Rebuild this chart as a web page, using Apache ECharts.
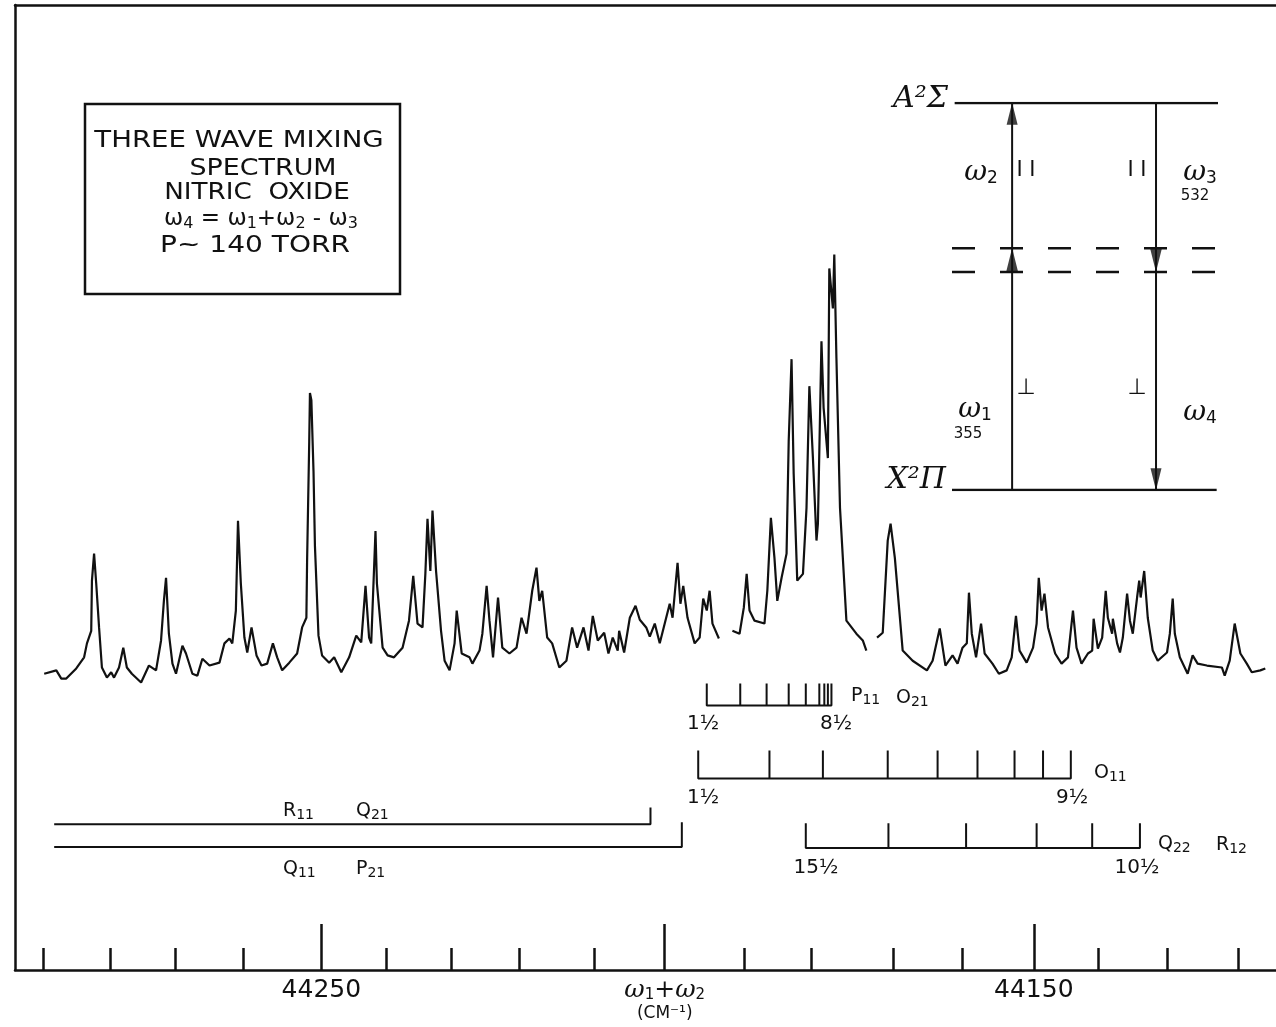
<!DOCTYPE html>
<html lang="en">
<head>
    <meta charset="UTF-8">
    <title>Three wave mixing spectrum - nitric oxide</title>
    <script src="https://cdn.jsdelivr.net/npm/echarts@6/dist/echarts.min.js"></script>
    <style>
        html, body { margin: 0; padding: 0; background: #fff; }
        #main { width: 1276px; height: 1027px; }
    </style>
</head>
<body>

<div id="main"></div>

<script type="text/javascript">
    // trace: wavenumber (cm-1) and signal (arb. units), null = pen gap
    var wavenumber = [
        44288.9, 44287.2, 44286.5, 44285.8, 44284.4, 44283.3, 44282.9, 44282.3, 44282.2, 44281.9,
        44281.6, 44281.2, 44280.8, 44280.1, 44279.5, 44279.1, 44278.4, 44277.8, 44277.3, 44276.6,
        44275.3, 44274.2, 44273.2, 44272.5, 44272.1, 44271.8, 44271.4, 44270.9, 44270.4, 44269.5,
        44269.0, 44268.1, 44267.4, 44266.7, 44265.7, 44264.3, 44263.6, 44262.9, 44262.5, 44262.0,
        44261.7, 44261.3, 44260.8, 44260.4, 44259.8, 44259.1, 44258.4, 44257.6, 44256.8, 44256.2,
        44255.5, 44254.5, 44253.4, 44252.7, 44252.1, 44252.0, 44251.7, 44251.6, 44251.4, 44251.1,
        44250.9, 44250.4, 44249.9, 44248.9, 44248.2, 44247.2, 44246.1, 44245.1, 44244.4, 44243.8,
        44243.3, 44243.0, 44242.4, 44242.2, 44241.4, 44240.7, 44239.8, 44238.6, 44237.7, 44237.1,
        44236.5, 44235.8, 44235.4, 44235.1, 44234.7, 44234.4, 44233.9, 44233.2, 44232.7, 44232.0,
        44231.3, 44231.0, 44230.3, 44229.2, 44228.8, 44227.8, 44227.4, 44226.8, 44226.4, 44225.9,
        44225.2, 44224.6, 44223.6, 44222.6, 44221.9, 44221.2, 44220.4, 44219.8, 44219.4, 44219.0,
        44218.3, 44217.6, 44216.6, 44215.6, 44214.8, 44214.1, 44213.2, 44212.5, 44211.9, 44211.2,
        44210.3, 44209.7, 44209.1, 44208.4, 44208.2, 44207.5, 44206.7, 44205.9, 44205.3, 44204.4,
        44203.9, 44203.2, 44202.5, 44201.1, 44200.7, 44200.0, 44199.6, 44199.2, 44198.6, 44197.6,
        44196.9, 44196.4, 44195.9, 44195.5, 44195.1, 44194.2, 44193.2, 44192.3, 44191.3, 44190.7,
        44190.3, 44189.9, 44189.2, 44187.8, 44187.4, 44186.9, 44186.4, 44186.0, 44185.4, 44184.7,
        44184.4, 44184.0, 44183.7, 44183.2, 44182.4, 44181.9, 44181.5, 44181.0, 44180.5, 44180.3,
        44179.8, 44179.5, 44178.9, 44178.7, 44178.2, 44178.0, 44177.7, 44177.2, 44176.3, 44174.9,
        44174.0, 44173.5, 44172.8, 44172.0, 44171.2, 44170.5, 44170.1, 44169.5, 44168.4, 44167.0,
        44165.0, 44164.2, 44163.2, 44162.4, 44161.4, 44160.7, 44160.0, 44159.4, 44159.1, 44158.7,
        44158.1, 44157.4, 44156.9, 44155.8, 44154.9, 44153.8, 44153.1, 44152.5, 44152.0, 44151.0,
        44150.1, 44149.6, 44149.3, 44148.9, 44148.5, 44148.0, 44147.0, 44146.1, 44145.2, 44144.5,
        44144.0, 44143.3, 44142.4, 44141.8, 44141.6, 44141.0, 44140.4, 44139.9, 44139.6, 44139.0,
        44138.9, 44138.3, 44137.9, 44137.5, 44136.9, 44136.5, 44136.1, 44135.5, 44135.2, 44135.0,
        44134.5, 44134.0, 44133.3, 44132.6, 44131.3, 44130.9, 44130.5, 44130.2, 44129.5, 44128.4,
        44127.7, 44127.0, 44125.7, 44123.6, 44123.2, 44122.5, 44121.8, 44121.0, 44120.1, 44119.4,
        44118.2, 44117.5
    ];
    var signal = [
        1.4, 2.1, 0.4, 0.4, 2.5, 4.8, 7.7, 10.3, 20.7, 26.3,
        20.1, 11.0, 2.7, 0.6, 1.7, 0.6, 2.7, 6.8, 2.7, 1.4,
        -0.4, 3.1, 2.1, 8.3, 16.5, 21.3, 9.7, 3.5, 1.4, 7.2,
        5.6, 1.4, 1.0, 4.5, 3.1, 3.7, 7.7, 8.7, 7.7, 14.5,
        33.1, 20.1, 8.9, 5.8, 11.0, 5.2, 3.1, 3.5, 7.7, 4.8,
        2.1, 3.7, 5.6, 11.0, 13.0, 24.8, 49.6, 59.6, 58.1, 43.4,
        27.9, 9.3, 5.2, 3.7, 4.8, 1.7, 4.8, 9.3, 7.9, 19.6,
        8.9, 7.7, 31.0, 20.1, 6.8, 5.2, 4.8, 6.8, 12.4, 21.7,
        11.8, 11.0, 22.1, 33.5, 22.7, 35.2, 22.7, 10.3, 4.1, 2.1,
        7.7, 14.5, 5.6, 4.8, 3.5, 6.2, 9.7, 19.6, 12.4, 4.8,
        17.2, 6.8, 5.6, 6.8, 13.0, 9.7, 18.6, 23.4, 16.5, 18.6,
        8.9, 7.7, 2.7, 4.1, 11.0, 6.8, 11.0, 6.2, 13.4, 8.3,
        9.9, 5.6, 8.9, 6.2, 10.3, 5.8, 13.0, 15.5, 12.6, 11.0,
        9.1, 11.8, 7.7, 15.9, 13.0, 24.4, 15.9, 19.6, 13.0, 7.7,
        8.9, 17.0, 14.5, 18.6, 11.8, 8.7, null, 10.3, 9.7, 15.1,
        22.1, 14.5, 12.4, 11.8, 18.6, 33.7, 25.4, 16.5, 21.3, 26.3,
        49.6, 66.6, 42.8, 20.7, 22.1, 35.8, 61.0, 46.1, 29.0, 32.5,
        70.3, 56.5, 46.1, 85.4, 77.1, 88.3, 66.8, 35.8, 12.4, 9.7,
        8.3, 6.2, null, 8.9, 9.9, 29.0, 32.5, 25.4, 6.2, 4.1,
        2.1, 4.1, 10.8, 3.1, 5.2, 3.5, 6.8, 7.7, 18.2, 9.7,
        4.8, 11.8, 5.6, 3.5, 1.4, 2.1, 4.8, 13.4, 6.2, 3.7,
        6.8, 11.8, 21.3, 14.5, 18.0, 11.0, 5.6, 3.5, 4.8, 14.5,
        6.8, 3.5, 5.6, 6.2, 12.8, 6.6, 8.9, 18.6, 13.0, 9.7,
        12.8, 7.7, 5.8, 8.9, 18.0, 12.4, 9.7, 17.2, 20.7, 17.2,
        22.7, 13.0, 6.2, 4.1, 5.8, 9.7, 17.0, 9.7, 4.8, 1.4,
        5.2, 3.5, 3.1, 2.7, 1.0, 4.1, 11.8, 5.6, 3.5, 1.7,
        2.1, 2.5
    ];

    // axis ticks as drawn (hand inked, ~10 cm-1 apart)
    var minorTicks = [44289.1, 44279.7, 44270.5, 44261.0, 44250, 44240.9, 44231.8, 44222.2, 44211.7,
        44201.8, 44190.6, 44181.2, 44169.7, 44160.1, 44150, 44140.9, 44131.2, 44121.3];
    var majorTicks = [44250, 44201.8, 44150];
    var tickLabels = ['44250', '{w|ω}{ws|1}{w|+ω}{ws|2}\n{c|(CM⁻¹)}', '44150'];

    // rotational assignments (cm-1)
    var p11Lines = [44195.9, 44191.2, 44187.5, 44184.4, 44182.0, 44180.1, 44179.4, 44178.9, 44178.4];
    var o11Lines = [44197.1, 44187.1, 44179.6, 44170.5, 44163.5, 44157.9, 44152.7, 44148.7, 44144.8];
    var q22Lines = [44182.0, 44170.4, 44159.5, 44149.6, 44141.8, 44135.1];
    var r11Band = [44287.5, 44203.8];
    var q11Band = [44287.5, 44199.4];

    // rows below the trace, in signal units: [baseline, tick top]
    var rowP11 = [-5.2, -0.6], rowO11 = [-20.3, -14.5], rowQ22 = [-34.7, -29.6];
    var rowR11 = [-29.8, -26.3], rowQ11 = [-34.5, -29.4];

    // energy level inset (0 = X2Pi, 1 = A2Sigma)
    var virtualLevels = [0.625, 0.563];
    var beamX = [0.226, 0.767];

    var ink = '#111';
    var myChart = echarts.init(document.getElementById('main'));

    var trace = wavenumber.map(function (w, i) {
        return [w, signal[i] === null ? '-' : signal[i]];
    });

    function comb(lines, row) {
        var pts = [];
        lines.forEach(function (w) {
            pts.push([w, row[0]], [w, row[1]], [w, row[0]]);
        });
        return pts;
    }

    function band(b, row) {
        return [[b[0], row[0]], [b[1], row[0]], [b[1], row[1]]];
    }

    function path(data, opts) {
        var s = {
            type: 'line', data: data, symbol: 'none', silent: true,
            lineStyle: {color: ink, width: 2}
        };
        for (var k in opts) s[k] = opts[k];
        return s;
    }

    // main glyph + subscript rich styles
    function richSet(mainFont, mainH, subFont, subH) {
        return {
            m: {font: mainFont, lineHeight: mainH, fill: ink},
            s: {font: subFont, lineHeight: subH, verticalAlign: 'bottom', fill: ink}
        };
    }

    var sans = '"DejaVu Sans"';
    var richLbl = richSet('19px ' + sans, 22, '14px ' + sans, 14);
    var richOmega = richSet('italic 28px "DejaVu Serif"', 28, '17px ' + sans, 15);
    var richTitle = richSet('23px ' + sans, 25, '16px ' + sans, 15);

    function txt(text, x, y, font, align, sx, rich) {
        var style = {
            text: text, font: font, fill: ink,
            textAlign: align || 'center', align: align || 'center',
            textVerticalAlign: 'middle', verticalAlign: 'middle'
        };
        if (rich) style.rich = rich;
        return {type: 'text', x: x, y: y, scaleX: sx || 1, silent: true, style: style};
    }

    function sub(a, b) {
        return '{m|' + a + '}{s|' + b + '}';
    }

    var option = {
        animation: false,
        backgroundColor: '#fff',
        textStyle: {fontFamily: 'DejaVu Sans', color: ink},
        grid: [
            {left: 15, right: 0, top: 5, bottom: 57},
            {left: 952, top: 103, width: 266, height: 387}
        ],
        xAxis: [{
            type: 'value', gridIndex: 0, inverse: true, min: 44116, max: 44293,
            position: 'bottom',
            axisLine: {onZero: false, lineStyle: {color: ink, width: 2.5}},
            axisTick: {show: true, inside: true, length: 22, customValues: minorTicks,
                lineStyle: {color: ink, width: 2.5}},
            axisLabel: {
                customValues: majorTicks, margin: 8, color: ink, fontSize: 25,
                formatter: function (v) {
                    return tickLabels[majorTicks.indexOf(v)];
                },
                rich: {
                    w: {fontSize: 25, fontFamily: 'DejaVu Serif', fontStyle: 'italic', color: ink, lineHeight: 25},
                    ws: {fontSize: 15, color: ink, lineHeight: 14, verticalAlign: 'bottom'},
                    c: {fontSize: 17, color: ink, lineHeight: 22}
                }
            },
            splitLine: {show: false}
        }, {
            type: 'value', gridIndex: 0, inverse: true, min: 44116, max: 44293,
            position: 'bottom',
            axisLine: {show: false, onZero: false},
            axisTick: {show: true, inside: true, length: 46, customValues: majorTicks,
                lineStyle: {color: ink, width: 2.5}},
            axisLabel: {show: false},
            splitLine: {show: false}
        }, {
            type: 'value', gridIndex: 0, inverse: true, min: 44116, max: 44293,
            position: 'top',
            axisLine: {show: true, onZero: false, lineStyle: {color: ink, width: 2.5}},
            axisTick: {show: false},
            axisLabel: {show: false},
            splitLine: {show: false}
        }, {
            type: 'value', gridIndex: 1, min: 0, max: 1, show: false
        }],
        yAxis: [{
            type: 'value', gridIndex: 0, min: -60, max: 140,
            axisLine: {show: true, onZero: false, lineStyle: {color: ink, width: 2.5}},
            axisTick: {show: false},
            axisLabel: {show: false},
            splitLine: {show: false}
        }, {
            type: 'value', gridIndex: 1, min: 0, max: 1, show: false
        }],
        series: [
            path(trace, {name: 'spectrum', connectNulls: false, lineStyle: {color: ink, width: 2.2}, z: 5}),
            path(comb(p11Lines, rowP11), {name: 'P11 O21'}),
            path(comb(o11Lines, rowO11), {name: 'O11'}),
            path(comb(q22Lines, rowQ22), {name: 'Q22 R12'}),
            path(band(r11Band, rowR11), {name: 'R11 Q21'}),
            path(band(q11Band, rowQ11), {name: 'Q11 P21'}),

            // inset: real and virtual levels, beams
            path([[0.01, 1], [1, 1]], {xAxisIndex: 3, yAxisIndex: 1, lineStyle: {color: ink, width: 2.5}}),
            path([[0, 0], [0.995, 0]], {xAxisIndex: 3, yAxisIndex: 1, lineStyle: {color: ink, width: 2.5}}),
            path([[0, virtualLevels[0]], [1, virtualLevels[0]]], {xAxisIndex: 3, yAxisIndex: 1,
                lineStyle: {color: ink, width: 2.5, type: [23, 25]}}),
            path([[0, virtualLevels[1]], [1, virtualLevels[1]]], {xAxisIndex: 3, yAxisIndex: 1,
                lineStyle: {color: ink, width: 2.5, type: [23, 25]}}),
            path([[beamX[0], 0], [beamX[0], 1]], {xAxisIndex: 3, yAxisIndex: 1}),
            path([[beamX[1], 1], [beamX[1], 0]], {xAxisIndex: 3, yAxisIndex: 1}),
            {
                type: 'scatter', xAxisIndex: 3, yAxisIndex: 1, silent: true,
                symbol: 'triangle', itemStyle: {color: ink},
                data: [
                    {value: [beamX[0], 0.972], symbolSize: [11, 22]},
                    {value: [beamX[0], 0.594], symbolSize: [12, 24]},
                    {value: [beamX[1], 0.594], symbolSize: [12, 24], symbolRotate: 180},
                    {value: [beamX[1], 0.028], symbolSize: [11, 22], symbolRotate: 180}
                ]
            }
        ],
        graphic: {
            elements: [
                {
                    type: 'rect', silent: true,
                    shape: {x: 85, y: 104, width: 315, height: 190},
                    style: {fill: null, stroke: ink, lineWidth: 2.5}
                },
                txt('THREE WAVE MIXING', 239, 141, '23px ' + sans, 'center', 1.2),
                txt('SPECTRUM', 263, 169, '23px ' + sans, 'center', 1.17),
                txt('NITRIC  OXIDE', 257, 193, '23px ' + sans, 'center', 1.14),
                txt(sub('ω', '4') + '{m| = ω}{s|1}{m|+ω}{s|2}{m| - ω}{s|3}', 261, 219,
                    '23px ' + sans, 'center', 1.0, richTitle),
                txt('P~ 140 TORR', 255, 246, '23px ' + sans, 'center', 1.22),

                txt('1½', 703, 724, '20px ' + sans),
                txt('8½', 836, 724, '20px ' + sans),
                txt(sub('P', '11'), 851, 696, lbl(), 'left', 1, richLbl),
                txt(sub('O', '21'), 896, 698, lbl(), 'left', 1, richLbl),
                txt('1½', 703, 798, '20px ' + sans),
                txt('9½', 1072, 798, '20px ' + sans),
                txt(sub('O', '11'), 1094, 773, lbl(), 'left', 1, richLbl),
                txt('15½', 816, 868, '20px ' + sans),
                txt('10½', 1137, 868, '20px ' + sans),
                txt(sub('Q', '22'), 1158, 844, lbl(), 'left', 1, richLbl),
                txt(sub('R', '12'), 1216, 845, lbl(), 'left', 1, richLbl),
                txt(sub('R', '11'), 283, 811, lbl(), 'left', 1, richLbl),
                txt(sub('Q', '21'), 356, 811, lbl(), 'left', 1, richLbl),
                txt(sub('Q', '11'), 283, 869, lbl(), 'left', 1, richLbl),
                txt(sub('P', '21'), 356, 869, lbl(), 'left', 1, richLbl),

                txt('A²Σ', 948, 99, 'italic 30px "DejaVu Serif"', 'right'),
                txt('X²Π', 946, 480, 'italic 30px "DejaVu Serif"', 'right'),
                txt(sub('ω', '2'), 981, 173, omega(), 'center', 1, richOmega),
                txt('I I', 1026, 171, '21px ' + sans),
                txt('I I', 1137, 171, '21px ' + sans),
                txt(sub('ω', '3'), 1200, 173, omega(), 'center', 1, richOmega),
                txt('532', 1195, 196, '15px ' + sans),
                txt('⊥', 1026, 388, '22px ' + sans),
                txt('⊥', 1137, 388, '22px ' + sans),
                txt(sub('ω', '1'), 975, 410, omega(), 'center', 1, richOmega),
                txt('355', 968, 434, '15px ' + sans),
                txt(sub('ω', '4'), 1200, 413, omega(), 'center', 1, richOmega)
            ]
        }
    };

    function lbl() { return '19px ' + sans; }
    function omega() { return 'italic 28px "DejaVu Serif"'; }

    myChart.setOption(option);
</script>
</body>
</html>
